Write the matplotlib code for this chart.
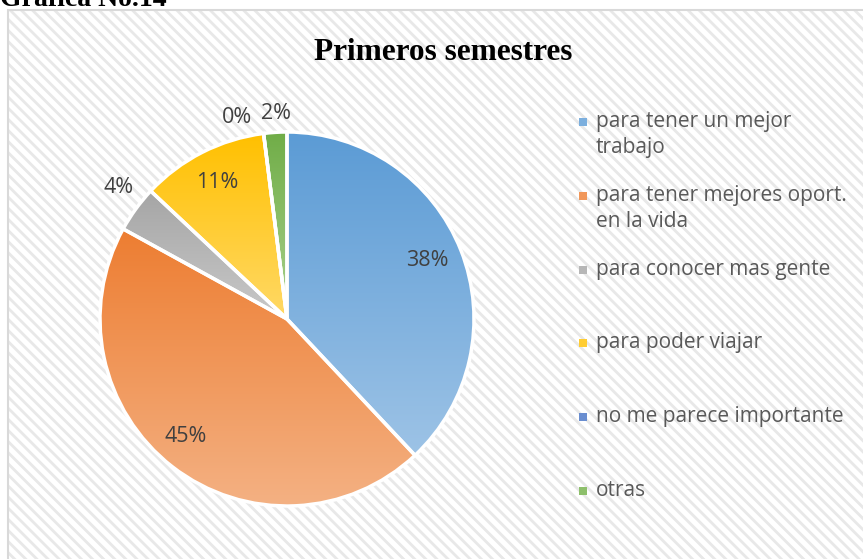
import numpy as np
import matplotlib.pyplot as plt
from matplotlib.patches import Rectangle
from matplotlib.colors import to_rgb

categories = [
    "para tener un mejor\ntrabajo",
    "para tener mejores oport.\nen la vida",
    "para conocer mas gente",
    "para poder viajar",
    "no me parece importante",
    "otras",
]
values = [38, 45, 4, 11, 0, 2]

# gradient colours (top -> bottom) for each slice
top_colors = ["#5b9bd5", "#ed7d31", "#a5a5a5", "#ffc000", "#4472c4", "#70ad47"]
bottom_colors = ["#9dc3e6", "#f4b183", "#c9c9c9", "#ffd966", "#8faadc", "#a9d18e"]

# label placement (fraction of radius, angle nudge in degrees)
label_dist = [0.81, 0.83, 1.14, 0.82, 1.11, 1.10]
label_nudge = [1, -3, -2, 0, 6.7, -0.6]

W, H = 863, 559


def fx(px):
    return px / W


def fy(py):
    return 1 - py / H


plt.rcParams["hatch.linewidth"] = 2.0
fig = plt.figure(figsize=(W / 100, H / 100), dpi=100)
fig.patch.set_facecolor("white")

# hatched chart area background
bg = fig.add_axes([0, 0, 1, 1], zorder=-1)
bg.set_xlim(0, 1)
bg.set_ylim(0, 1)
bg.axis("off")
bg.add_patch(Rectangle((fx(8), -0.01), 1.0, fy(10) + 0.01, facecolor="white",
                       edgecolor="#e8e8e8", hatch="\\\\\\", linewidth=0))
bg.add_patch(Rectangle((fx(8), -0.01), 1.0, fy(10) + 0.01, facecolor="none",
                       edgecolor="#d9d9d9", linewidth=1.5))

# heading above the chart (cut off at the top, as in the source)
fig.text(fx(0), fy(6), "Gráfica No.14", fontsize=20, fontweight="bold",
         family="Liberation Serif", va="baseline", ha="left", color="black")

fig.text(fx(443), fy(60), "Primeros semestres", fontsize=22.5, fontweight="bold",
         family="Liberation Serif", va="baseline", ha="center", color="black")

# pie
cx, cy, r = 287, 319, 187
ax = fig.add_axes([fx(cx - r), fy(cy + r), 2 * r / W, 2 * r / H])
wedges, _ = ax.pie(values, startangle=90, counterclock=False, radius=1,
                   wedgeprops=dict(edgecolor="white", linewidth=2.5))

for w, c0, c1 in zip(wedges, top_colors, bottom_colors):
    ext = w.get_path().get_extents()
    if ext.width <= 0 or ext.height <= 0:
        w.set_facecolor("none")
        continue
    t = np.linspace(0, 1, 256)[:, None, None]
    grad = (1 - t) * np.array(to_rgb(c0)) + t * np.array(to_rgb(c1))
    im = ax.imshow(grad, extent=(ext.x0, ext.x1, ext.y0, ext.y1),
                   origin="upper", aspect="auto", zorder=1)
    im.set_clip_path(w)
    w.set_facecolor("none")
    w.set_zorder(2)

ax.set_xlim(-1, 1)
ax.set_ylim(-1, 1)
ax.set_aspect("auto")
ax.axis("off")

total = sum(values)
cum = 0
for v, d, nud in zip(values, label_dist, label_nudge):
    mid = 90 - (cum + v / 2) / total * 360 + nud
    cum += v
    a = np.deg2rad(mid)
    ax.text(d * np.cos(a), d * np.sin(a), f"{v / total:.0%}", ha="center",
            va="center", fontsize=15.5, family="Open Sans", color="#404040",
            zorder=5, clip_on=False)

# legend drawn by hand (Office style: marker aligned to first line)
for i, (lab, c0, c1) in enumerate(zip(categories, top_colors, bottom_colors)):
    y = 122 + i * 73.8
    mid_col = (np.array(to_rgb(c0)) + np.array(to_rgb(c1))) / 2
    bg.add_patch(Rectangle((fx(579), fy(y + 4)), 8 / W, 8 / H,
                           facecolor=mid_col, edgecolor="none", zorder=3))
    fig.text(fx(596), fy(y - 11), lab, fontsize=15, family="Open Sans",
             color="#595959", va="top", ha="left", linespacing=1.33)

fig.savefig("out.png", dpi=100)
